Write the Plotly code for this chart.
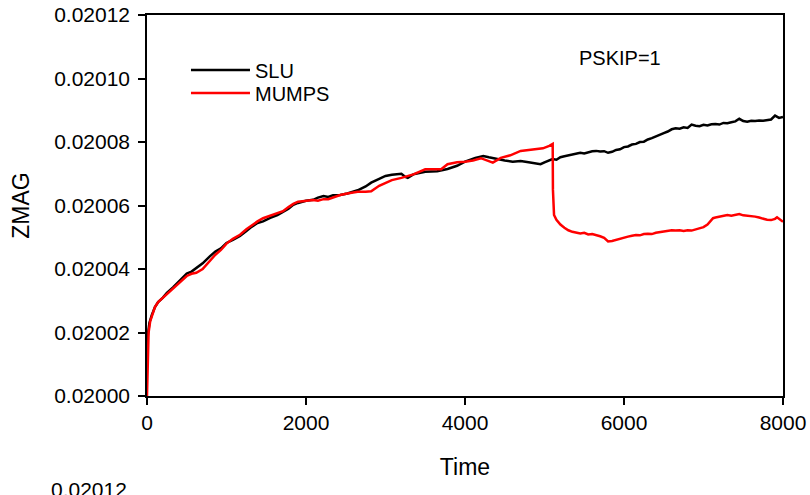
import plotly.graph_objects as go

# SLU series (Time, ZMAG)
slu_time = [0, 10, 30, 60, 100, 140, 200, 250, 330, 400, 450, 500, 560, 620, 700, 790, 860, 930,
            1000, 1080, 1170, 1250, 1300, 1390, 1460, 1550, 1640, 1710, 1780, 1840, 1900, 2000,
            2090, 2150, 2220, 2280, 2340, 2430, 2520, 2650, 2750, 2820, 2920, 3000, 3080, 3200,
            3250, 3280, 3350, 3500, 3650, 3780, 3900, 4000, 4130, 4230, 4300, 4400, 4500, 4600,
            4700, 4800, 4900, 4950,
            5000, 5050, 5100, 5150, 5200, 5250, 5300, 5350, 5400, 5450, 5500, 5550, 5600, 5650,
            5700, 5750, 5800, 5850, 5900, 5950, 6000, 6050, 6100, 6150, 6200, 6250, 6300, 6350,
            6400, 6450, 6500, 6550, 6600, 6650, 6700, 6750, 6800, 6850, 6900, 6950, 7000, 7050,
            7100, 7150, 7200, 7250, 7300, 7350, 7400, 7450, 7500, 7550, 7600, 7650, 7700, 7750,
            7800, 7850, 7900, 7950, 8000]
slu_zmag = [0.0200123, 0.0200190, 0.0200230, 0.0200255, 0.0200280, 0.0200296, 0.0200310,
            0.0200325, 0.0200343, 0.0200360, 0.0200375, 0.0200386, 0.0200392, 0.0200402,
            0.0200418, 0.0200440, 0.0200455, 0.0200465, 0.0200482, 0.0200492, 0.0200504,
            0.0200520, 0.0200530, 0.0200545, 0.0200550, 0.0200561, 0.0200570, 0.0200580,
            0.0200590, 0.0200602, 0.0200608, 0.0200615, 0.0200618, 0.0200625, 0.0200630,
            0.0200627, 0.0200632, 0.0200633, 0.0200638, 0.0200648, 0.0200660, 0.0200672,
            0.0200685, 0.0200693, 0.0200697, 0.0200700, 0.0200690, 0.0200687, 0.0200698,
            0.0200706, 0.0200708, 0.0200715, 0.0200725, 0.0200738, 0.0200750, 0.0200756,
            0.0200752, 0.0200746, 0.0200742, 0.0200738, 0.0200740, 0.0200736, 0.0200733,
            0.0200730,
            0.0200736, 0.0200742, 0.0200746, 0.0200744, 0.0200752, 0.0200755, 0.0200758,
            0.0200762, 0.0200763, 0.0200766, 0.0200764, 0.0200768, 0.0200771, 0.0200772,
            0.0200770, 0.0200771, 0.0200766, 0.0200769, 0.0200775, 0.0200777, 0.0200784,
            0.0200786, 0.0200792, 0.0200794, 0.0200800, 0.0200801, 0.0200808, 0.0200812,
            0.0200818, 0.0200822, 0.0200828, 0.0200833, 0.0200840, 0.0200843, 0.0200842,
            0.0200846, 0.0200844, 0.0200855, 0.0200851, 0.0200850, 0.0200854, 0.0200852,
            0.0200856, 0.0200857, 0.0200855, 0.0200860, 0.0200859, 0.0200862, 0.0200865,
            0.0200873, 0.0200866, 0.0200864, 0.0200867, 0.0200866, 0.0200868, 0.0200867,
            0.0200870, 0.0200871, 0.0200883, 0.0200876, 0.0200879]

# MUMPS series (Time, ZMAG)
mumps_time = [0, 5, 10, 20, 40, 70, 100, 140, 200, 250, 330, 400, 460, 500, 560, 620, 700, 790,
              860, 930, 1000, 1080, 1170, 1250, 1300, 1390, 1460, 1550, 1640, 1710, 1780, 1840,
              1900, 2000, 2090, 2150, 2220, 2280, 2340, 2430, 2520, 2650, 2750, 2820, 2920, 3000,
              3080, 3200, 3350, 3500, 3600, 3700, 3780, 3900, 4000, 4100, 4200, 4290, 4350, 4450,
              4570, 4700, 4800, 4900, 4980, 5060, 5103,
              5106, 5112, 5120, 5150, 5200, 5250, 5300, 5350, 5400, 5450, 5500, 5550, 5600, 5650,
              5700, 5750, 5800, 5850, 5900, 5950, 6000, 6050, 6100, 6150, 6200, 6250, 6300, 6350,
              6400, 6450, 6500, 6550, 6600, 6650, 6700, 6750, 6800, 6850, 6900, 6950, 7000, 7050,
              7100, 7120, 7150, 7200, 7250, 7300, 7350, 7400, 7450, 7500, 7550, 7600, 7650, 7700,
              7750, 7800, 7850, 7900, 7925, 7960, 8000]
mumps_zmag = [0.0200000, 0.0200060, 0.0200150, 0.0200200, 0.0200235, 0.0200260, 0.0200280,
              0.0200296, 0.0200310, 0.0200322, 0.0200340, 0.0200355, 0.0200370, 0.0200378,
              0.0200385, 0.0200388, 0.0200400, 0.0200425, 0.0200445, 0.0200460, 0.0200480,
              0.0200495, 0.0200508, 0.0200525, 0.0200535, 0.0200550, 0.0200560, 0.0200568,
              0.0200575, 0.0200582, 0.0200595, 0.0200605, 0.0200612, 0.0200614, 0.0200617,
              0.0200615, 0.0200620, 0.0200620, 0.0200625, 0.0200633, 0.0200638, 0.0200643,
              0.0200643, 0.0200645, 0.0200662, 0.0200670, 0.0200680, 0.0200687, 0.0200698,
              0.0200714, 0.0200714, 0.0200714, 0.0200730, 0.0200736, 0.0200738, 0.0200742,
              0.0200749, 0.0200740, 0.0200735, 0.0200750, 0.0200758, 0.0200772, 0.0200775,
              0.0200778, 0.0200780, 0.0200788, 0.0200794,
              0.0200650, 0.0200595, 0.0200570, 0.0200555, 0.0200540, 0.0200530, 0.0200522,
              0.0200517, 0.0200514, 0.0200512, 0.0200514, 0.0200509, 0.0200510, 0.0200507,
              0.0200503, 0.0200498, 0.0200487, 0.0200488, 0.0200492, 0.0200495, 0.0200500,
              0.0200502, 0.0200505, 0.0200507, 0.0200506, 0.0200510, 0.0200511, 0.0200510,
              0.0200514, 0.0200516, 0.0200519, 0.0200520, 0.0200522, 0.0200521, 0.0200522,
              0.0200520, 0.0200522, 0.0200521, 0.0200524, 0.0200528, 0.0200532, 0.0200540,
              0.0200555, 0.0200560, 0.0200562, 0.0200564, 0.0200567, 0.0200570,
              0.0200568, 0.0200571, 0.0200573, 0.0200569, 0.0200568, 0.0200566, 0.0200565,
              0.0200562, 0.0200558, 0.0200555, 0.0200554, 0.0200558, 0.0200563, 0.0200555,
              0.0200549]

x_ticks = [0, 2000, 4000, 6000, 8000]
y_ticks = [0.02000, 0.02002, 0.02004, 0.02006, 0.02008, 0.02010, 0.02012]
y_tick_labels = ["0.02000", "0.02002", "0.02004", "0.02006", "0.02008", "0.02010", "0.02012"]

FONT = "Liberation Sans, Arial, sans-serif"

fig = go.Figure()
fig.add_trace(go.Scatter(x=slu_time, y=slu_zmag, mode="lines", name="SLU",
                         line=dict(color="black", width=2.5), legend="legend"))
fig.add_trace(go.Scatter(x=mumps_time, y=mumps_zmag, mode="lines", name="MUMPS",
                         line=dict(color="#ff0000", width=2.5), legend="legend2"))

leg_common = dict(xanchor="left", yanchor="middle", bgcolor="rgba(0,0,0,0)",
                  font=dict(size=20, family=FONT, color="black"), itemwidth=59,
                  borderwidth=0)

fig.update_layout(
    template="none",
    width=810, height=495,
    margin=dict(l=147, r=27, t=15, b=99, pad=0),
    paper_bgcolor="white", plot_bgcolor="white",
    font=dict(family=FONT, size=20, color="black"),
    showlegend=True,
    legend=dict(x=0.0613, y=(396 - 70) / 381, **leg_common),
    legend2=dict(x=0.0613, y=(396 - 93) / 381, **leg_common),
    annotations=[
        dict(text="PSKIP=1", x=0.744, y=0.887, xref="paper", yref="paper",
             showarrow=False, xanchor="center", yanchor="middle",
             font=dict(size=20)),
        dict(text="0.02012", x=(129 - 147) / 636, y=(396 - 476) / 381, xref="paper",
             yref="paper", showarrow=False, xanchor="right", yanchor="top",
             font=dict(size=21)),
    ],
)
fig.update_xaxes(range=[0, 8000], tickvals=x_ticks, ticks="outside", ticklen=7,
                 tickwidth=1.5, tickcolor="black", showline=True, linecolor="black",
                 linewidth=1.5, mirror=True, showgrid=False, zeroline=False,
                 automargin=False, ticklabeloverflow="allow", tickfont=dict(size=21),
                 title=dict(text="Time", font=dict(size=23), standoff=26))
fig.update_yaxes(range=[0.02000, 0.02012], tickvals=y_ticks, ticktext=y_tick_labels,
                 ticks="outside", ticklen=7, tickwidth=1.5, tickcolor="black",
                 showline=True, linecolor="black", linewidth=1.5, mirror=True,
                 showgrid=False, zeroline=False, automargin=False,
                 ticklabeloverflow="allow",
                 ticklabelstandoff=4, tickfont=dict(size=21),
                 title=dict(text="ZMAG", font=dict(size=23), standoff=18))

fig.write_html("out.html", config={"displayModeBar": False},
               post_script="document.body.style.margin='0';document.body.style.overflow='hidden';")
